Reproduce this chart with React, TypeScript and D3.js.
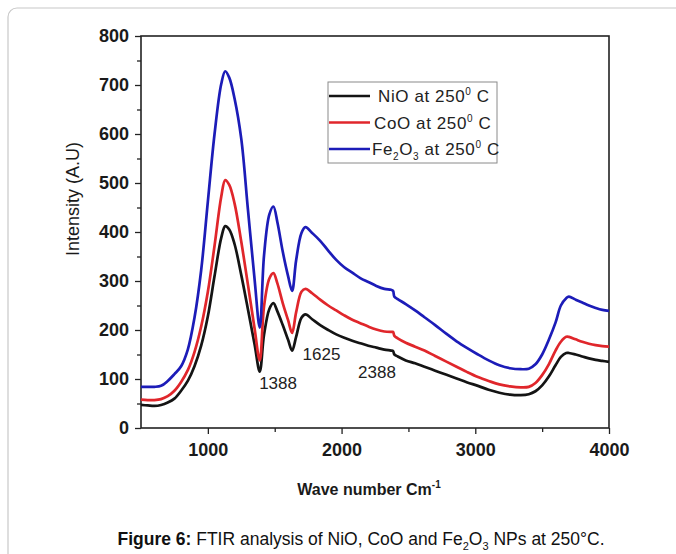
import { useEffect, useRef } from "react";
import * as d3 from "d3";

// wave numbers shared by the three spectra (cm-1)
const WAVES = [
  500, 550, 600, 650, 700, 750, 800, 850, 900, 950, 1000, 1050, 1100, 1130, 1160,
  1200, 1250, 1300, 1350, 1388, 1420, 1460, 1490, 1520, 1560, 1600, 1630, 1660,
  1700, 1730, 1780, 1840, 1900, 1960, 2020, 2080, 2140, 2200, 2260, 2320, 2370,
  2385, 2395, 2420, 2480, 2550, 2620, 2700, 2780, 2860, 2940, 3020, 3100, 3180,
  3260, 3340, 3400, 3450, 3500, 3550, 3600, 3640, 3680, 3700, 3750, 3800, 3850,
  3900, 3950, 4000,
];

const NIO = [
  47, 46, 45, 47, 52, 60, 76, 96, 126, 168, 228, 310, 388, 412, 405,
  375, 312, 242, 170, 115, 190, 243, 255, 238, 210, 180, 158,
  186, 225, 232, 222, 210, 200, 191, 184, 178, 173, 168, 164, 160, 158,
  157, 150, 146, 138, 132, 125, 117, 109, 101, 93, 86, 78, 72,
  68, 67, 69, 75, 87, 105, 128, 145, 153, 153, 150, 146, 142,
  139, 137, 135,
];

const COO = [
  58, 57, 57, 59, 65, 76, 94, 118, 155, 207, 278, 372, 472, 506, 496,
  458, 380, 292, 202, 138, 248, 305, 316, 295, 255, 220, 194,
  236, 278, 284, 275, 262, 250, 240, 230, 221, 214, 207, 201, 197, 196,
  196, 188, 183, 174, 166, 158, 147, 136, 125, 114, 104, 96, 89,
  85, 83, 84, 92, 108, 130, 158, 176, 186, 186, 181, 176, 172,
  169, 167, 166,
];

const FE2O3 = [
  84, 84, 84, 86, 96, 110, 126, 160, 225, 322, 462, 600, 702, 728, 715,
  672, 590, 445, 302, 205, 352, 436, 452, 420, 360, 310, 280,
  342, 398, 410, 398, 382, 362, 343, 328, 317, 306, 298, 290, 284, 282,
  280, 268, 263, 253, 240, 226, 210, 193, 177, 163, 150, 138, 128,
  122, 120, 121, 130, 150, 180, 215, 250, 265, 268, 262, 256, 250,
  245, 241, 239,
];

const SERIES_NAMES = ["NiO", "CoO", "Fe2O3"];
const SERIES_COLORS = ["#141414", "#e0262b", "#1c1cb8"];
const X_TICKS = [1000, 2000, 3000, 4000];
const Y_TICKS = [0, 100, 200, 300, 400, 500, 600, 700, 800];
const PEAK_LABELS = [
  { text: "1388", wave: 1525, value: 88 },
  { text: "1625", wave: 1850, value: 147 },
  { text: "2388", wave: 2265, value: 112 },
];

export default function App() {
  const svgRef = useRef<SVGSVGElement>(null);

  useEffect(() => {
    const width = 676;
    const height = 554;
    const margin = { top: 36, right: 67, bottom: 126, left: 141 };
    const innerW = width - margin.left - margin.right;
    const innerH = height - margin.top - margin.bottom;

    const svg = d3.select(svgRef.current);
    svg.selectAll("*").remove();
    svg.attr("width", width).attr("height", height);

    // card outline
    svg.append("rect")
      .attr("x", 8).attr("y", 8)
      .attr("width", 720).attr("height", 620)
      .attr("rx", 9)
      .attr("fill", "#fff")
      .attr("stroke", "#c8c8c8")
      .attr("stroke-width", 1.2);

    const g = svg.append("g")
      .attr("transform", `translate(${margin.left},${margin.top})`);

    const x = d3.scaleLinear().domain([500, 4000]).range([0, innerW]);
    const y = d3.scaleLinear().domain([0, 800]).range([innerH, 0]);

    const font = "Arial, 'Liberation Sans', sans-serif";

    // ----- axes -----
    const xAxis = g.append("g")
      .attr("transform", `translate(0,${innerH})`)
      .call(d3.axisBottom(x).tickValues(X_TICKS).tickSize(6).tickPadding(9).tickFormat(d3.format("d")));
    const xMinor = g.append("g")
      .attr("transform", `translate(0,${innerH})`)
      .call(d3.axisBottom(x).tickValues([1500, 2500, 3500]).tickSize(4).tickFormat(() => ""));
    const yAxis = g.append("g")
      .call(d3.axisLeft(y).tickValues(Y_TICKS).tickSize(6).tickPadding(6));
    const yMinor = g.append("g")
      .call(d3.axisLeft(y).tickValues(d3.range(50, 800, 100)).tickSize(4).tickFormat(() => ""));

    [xAxis, xMinor, yAxis, yMinor].forEach((a) => {
      a.select(".domain").remove();
      a.selectAll("line").attr("stroke", "#222").attr("stroke-width", 1.3);
      a.selectAll("text")
        .attr("font-family", font)
        .attr("font-size", 18)
        .attr("font-weight", "bold")
        .attr("fill", "#1a1a1a");
    });

    // frame
    g.append("rect")
      .attr("width", innerW).attr("height", innerH)
      .attr("fill", "none")
      .attr("stroke", "#222")
      .attr("stroke-width", 1.6);

    // ----- spectra -----
    const line = d3.line<number>()
      .x((_, i) => x(WAVES[i]))
      .y((d) => y(d))
      .curve(d3.curveCatmullRom.alpha(0.5));

    [NIO, COO, FE2O3].forEach((vals, i) => {
      g.append("path")
        .datum(vals)
        .attr("fill", "none")
        .attr("stroke", SERIES_COLORS[i])
        .attr("stroke-width", 2.7)
        .attr("stroke-linejoin", "round")
        .attr("d", line);
    });

    // peak labels
    PEAK_LABELS.forEach((p) => {
      g.append("text")
        .attr("x", x(p.wave)).attr("y", y(p.value))
        .attr("text-anchor", "middle")
        .attr("dominant-baseline", "middle")
        .attr("font-family", font)
        .attr("font-size", 17)
        .attr("fill", "#222")
        .text(p.text);
    });

    // ----- legend -----
    const legend = g.append("g").attr("transform", "translate(187,46)");
    legend.append("rect")
      .attr("width", 169).attr("height", 81)
      .attr("fill", "#fff")
      .attr("stroke", "#8a8a8a")
      .attr("stroke-width", 1);
    const textX = [50, 46, 44];
    SERIES_NAMES.forEach((name, i) => {
      const row = legend.append("g").attr("transform", `translate(0,${14 + i * 26.5})`);
      row.append("line")
        .attr("x1", 1).attr("x2", 42)
        .attr("stroke", SERIES_COLORS[i])
        .attr("stroke-width", 2.6);
      const t = row.append("text")
        .attr("x", textX[i]).attr("y", 6)
        .attr("font-family", font)
        .attr("font-size", 17)
        .attr("letter-spacing", 0.6)
        .attr("fill", "#222");
      if (name === "Fe2O3") {
        t.append("tspan").text("Fe");
        t.append("tspan").attr("dy", 5).attr("font-size", 10).text("2");
        t.append("tspan").attr("dy", -5).text("O");
        t.append("tspan").attr("dy", 5).attr("font-size", 10).text("3");
        t.append("tspan").attr("dy", -5).text(" at 250");
      } else {
        t.append("tspan").text(`${name} at 250`);
      }
      t.append("tspan").attr("dy", -7).attr("font-size", 10).text("0");
      t.append("tspan").attr("dy", 7).text(" C");
    });

    // ----- axis titles -----
    g.append("text")
      .attr("transform", "rotate(-90)")
      .attr("x", -163).attr("y", -62)
      .attr("text-anchor", "middle")
      .attr("font-family", font)
      .attr("font-size", 18)
      .attr("fill", "#1a1a1a")
      .text("Intensity (A.U)");

    const xt = g.append("text")
      .attr("x", 228).attr("y", innerH + 67)
      .attr("text-anchor", "middle")
      .attr("font-family", font)
      .attr("font-size", 16)
      .attr("font-weight", "bold")
      .attr("fill", "#1a1a1a");
    xt.append("tspan").text("Wave number Cm");
    xt.append("tspan").attr("dy", -7).attr("font-size", 10).text("-1");

    // ----- caption -----
    const cap = svg.append("text")
      .attr("x", 361).attr("y", 545)
      .attr("text-anchor", "middle")
      .attr("font-family", font)
      .attr("font-size", 17.5)
      .attr("fill", "#111");
    cap.append("tspan").attr("font-weight", "bold").text("Figure 6:");
    cap.append("tspan").text(" FTIR analysis of NiO, CoO and Fe");
    cap.append("tspan").attr("dy", 5).attr("font-size", 11).text("2");
    cap.append("tspan").attr("dy", -5).text("O");
    cap.append("tspan").attr("dy", 5).attr("font-size", 11).text("3");
    cap.append("tspan").attr("dy", -5).text(" NPs at 250°C.");
  }, []);

  return (
    <div style={{ position: "fixed", left: 0, top: 0, width: 676, height: 554, background: "#fff" }}>
      <svg ref={svgRef} style={{ display: "block" }}></svg>
    </div>
  );
}
